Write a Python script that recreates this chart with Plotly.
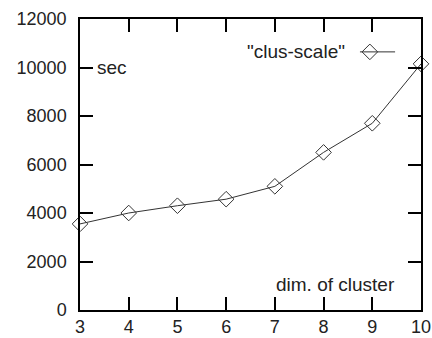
import plotly.graph_objects as go

dims = [3, 4, 5, 6, 7, 8, 9, 10]
secs = [3550, 4000, 4300, 4570, 5100, 6500, 7700, 10150]
x_ticks = [3, 4, 5, 6, 7, 8, 9, 10]
y_ticks = [0, 2000, 4000, 6000, 8000, 10000, 12000]
series_name = '"clus-scale"'

fam = "Liberation Sans, Arial, Helvetica, sans-serif"
font = dict(family=fam, size=19, color="#222")
tfont = dict(family=fam, size=18, color="#222")

fig = go.Figure()
fig.add_trace(go.Scatter(
    x=dims, y=secs, mode="lines+markers", name=series_name,
    line=dict(color="#333", width=1),
    marker=dict(symbol="diamond-open", size=12, color="#333", line=dict(width=1)),
    showlegend=False, cliponaxis=False,
))
# legend sample (gnuplot-style: text then sample)
fig.add_trace(go.Scatter(
    x=[0.821, 0.85, 0.924], y=[0.887, 0.887, 0.887], mode="lines",
    line=dict(color="#333", width=1), xaxis="x2", yaxis="y2", showlegend=False,
))
fig.add_trace(go.Scatter(
    x=[0.85], y=[0.887], mode="markers",
    marker=dict(symbol="diamond-open", size=12, color="#333", line=dict(width=1)),
    xaxis="x2", yaxis="y2", showlegend=False,
))

axis_common = dict(
    showgrid=False, zeroline=False, showline=True, linecolor="black", linewidth=1.5,
    mirror="allticks", ticks="inside", ticklen=13, tickwidth=1.5, tickcolor="black",
    tickfont=tfont, automargin=False,
)
fig.update_layout(
    width=432, height=338,
    margin=dict(l=80, r=11, t=19, b=28),
    paper_bgcolor="white", plot_bgcolor="white",
    font=font,
    xaxis=dict(range=[3, 10], tickvals=x_ticks, ticktext=[str(v) for v in x_ticks],
               ticklabelstandoff=0, **axis_common),
    yaxis=dict(range=[0, 12000], tickvals=y_ticks, ticktext=[str(v) for v in y_ticks],
               ticklabelstandoff=8, **axis_common),
    xaxis2=dict(range=[0, 1], overlaying="x", visible=False, anchor="y2"),
    yaxis2=dict(range=[0, 1], overlaying="y", visible=False, anchor="x2"),
    annotations=[
        dict(text="sec", xref="paper", yref="paper", x=0.044, y=0.832,
             xanchor="left", yanchor="middle", showarrow=False, font=font),
        dict(text="dim. of cluster", xref="paper", yref="paper", x=0.93, y=0.086,
             xanchor="right", yanchor="middle", showarrow=False, font=font),
        dict(text=series_name, xref="x2", yref="y2", x=0.783, y=0.887,
             xanchor="right", yanchor="middle", showarrow=False, font=font),
    ],
)
fig.write_html("out.html")
